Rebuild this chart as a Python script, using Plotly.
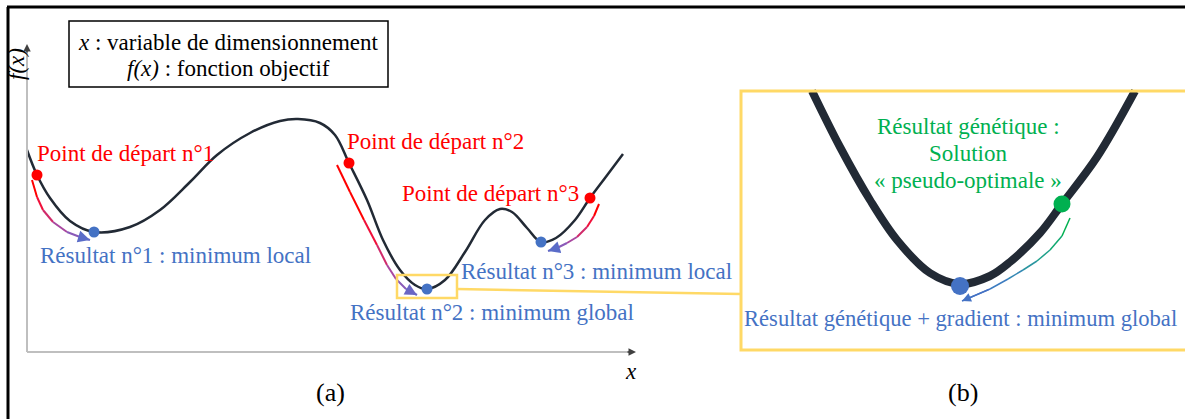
import plotly.graph_objects as go

# canvas in pixel units (x to the right, y downwards)
W, H = 1185, 419
FONT = "'Liberation Serif', 'Times New Roman', Times, serif"
RED, BLUE, GREEN = "#ff0000", "#4472c4", "#00b050"
DARK = "#222a35"
GOLD = "#ffd966"

#%% data
# (a) objective function f(x) sampled along the curve
curve_a_x = [27, 37, 50, 70, 94, 130, 160, 190, 217, 250, 280, 298, 320, 335, 349,
             367, 383, 400, 415, 427, 445, 465, 485, 500, 512, 527, 541, 556, 575, 590, 605, 623]
curve_a_y = [150, 175, 198, 221, 232, 227, 210, 182, 155, 133, 121, 119, 123, 135, 163,
             200, 240, 270, 285, 289, 280, 252, 220, 209, 212, 228, 242, 238, 220, 198, 178, 154]

start_x = [37, 349, 590]
start_y = [175, 163, 198]
start_labels = ["Point de départ n°1", "Point de départ n°2", "Point de départ n°3"]

result_x = [94, 427, 541]
result_y = [232, 289, 242]
result_labels = ["Résultat n°1 : minimum local", "Résultat n°2 : minimum global",
                 "Résultat n°3 : minimum local"]

# descent paths (gradient) from each start point to its result
path1_x = [32, 37, 43, 53, 67, 80, 90]
path1_y = [180, 197, 210, 222, 232, 237, 240]
path2_x = [337, 350, 364, 377, 387, 396, 406, 417]
path2_y = [165, 192, 220, 245, 265, 279, 289, 295]
path3_x = [599, 594, 587, 577, 567, 557, 548]
path3_y = [204, 216, 227, 237, 243, 248, 251]

# (b) zoom around the global minimum
curve_b_x = [812, 840, 870, 897, 930, 960, 990, 1010, 1040, 1062, 1097, 1135]
curve_b_y = [91, 147, 200, 240, 273, 284, 276, 262, 233, 204, 157, 91]
genetic_x, genetic_y = [1062], [204]
final_x, final_y = [960], [286]
path_b_x = [1070, 1062, 1050, 1037, 1023, 1008, 990, 962]
path_b_y = [218, 236, 250, 261, 270, 279, 289, 301]

fig = go.Figure()

# axes of panel (a)
fig.add_shape(type="line", x0=27, y0=352, x1=27, y1=47, line=dict(color="#bfbfbf", width=2))
fig.add_shape(type="line", x0=27, y0=352, x1=632, y1=352, line=dict(color="#bfbfbf", width=2))
fig.add_annotation(x=27, y=44, ax=27, ay=54, xref="x", yref="y", axref="x", ayref="y",
                   text="", showarrow=True, arrowhead=2, arrowsize=1, arrowwidth=1.5,
                   arrowcolor="#404040")
fig.add_annotation(x=636, y=352, ax=626, ay=352, xref="x", yref="y", axref="x", ayref="y",
                   text="", showarrow=True, arrowhead=2, arrowsize=1, arrowwidth=1.5,
                   arrowcolor="#404040")

# legend box
fig.add_shape(type="rect", x0=69, y0=21, x1=388, y1=87, line=dict(color="black", width=1.5))

# zoom boxes
fig.add_shape(type="rect", x0=397, y0=275, x1=457, y1=298, line=dict(color=GOLD, width=2.5))
fig.add_shape(type="line", x0=457, y0=289, x1=741, y1=294, line=dict(color=GOLD, width=2.5))
fig.add_shape(type="rect", x0=741, y0=91, x1=W + 10, y1=350, line=dict(color=GOLD, width=3))


def gradient_path(xs, ys, colors, width):
    for i in range(len(xs) - 1):
        fig.add_trace(go.Scatter(x=xs[i:i + 2], y=ys[i:i + 2], mode="lines",
                                 line=dict(color=colors[i], width=width),
                                 showlegend=False, hoverinfo="skip"))
    fig.add_annotation(x=xs[-1], y=ys[-1], ax=xs[-2], ay=ys[-2], xref="x", yref="y",
                       axref="x", ayref="y", text="", showarrow=True, arrowhead=2,
                       arrowsize=1.2, arrowwidth=width, arrowcolor=colors[-1])


grad_rb = ["#ff0000", "#f0103a", "#d02a6a", "#a848a0", "#8a5ab8", "#6a66c4", "#5a6cc8"]
gradient_path(path1_x, path1_y, grad_rb, 2)
gradient_path(path2_x, path2_y, ["#ff0000", "#ff0000", "#f0103a", "#d02a6a", "#a848a0",
                                 "#8a5ab8", "#6a66c4"], 2)
gradient_path(path3_x, path3_y, grad_rb, 2)
gradient_path(path_b_x, path_b_y, ["#00b050", "#10a870", "#1ea08a", "#2a95a0", "#3488b4",
                                   "#3c7cc0", "#4472c4"], 1.5)

# curves
fig.add_trace(go.Scatter(x=curve_a_x, y=curve_a_y, mode="lines", line_shape="spline",
                         line=dict(color=DARK, width=2.5), showlegend=False, hoverinfo="skip"))
fig.add_trace(go.Scatter(x=curve_b_x, y=curve_b_y, mode="lines", line_shape="spline",
                         line=dict(color=DARK, width=8), showlegend=False, hoverinfo="skip"))

# points
fig.add_trace(go.Scatter(x=start_x, y=start_y, mode="markers",
                         marker=dict(color=RED, size=11), showlegend=False))
fig.add_trace(go.Scatter(x=result_x, y=result_y, mode="markers",
                         marker=dict(color=BLUE, size=11), showlegend=False))
fig.add_trace(go.Scatter(x=genetic_x, y=genetic_y, mode="markers",
                         marker=dict(color=GREEN, size=17), showlegend=False))
fig.add_trace(go.Scatter(x=final_x, y=final_y, mode="markers",
                         marker=dict(color=BLUE, size=18), showlegend=False))

# texts
def label(x, y, text, color="black", size=23, anchor="left", angle=0):
    fig.add_annotation(x=x, y=y, xref="x", yref="y", text=text, showarrow=False,
                       xanchor=anchor, yanchor="middle", textangle=angle,
                       font=dict(family=FONT, size=size, color=color))


label(228, 42, "<i>x</i> : variable de dimensionnement", anchor="center")
label(228, 68, "<i>f(x)</i> : fonction objectif", anchor="center")
label(16, 64, "<i>f(x)</i>", anchor="center", angle=-90)

start_pos = [(35, 153), (345, 141), (400, 193)]
for (px, py), t in zip(start_pos, start_labels):
    label(px, py, t, RED)
result_pos = [(38, 255), (348, 312), (459, 271)]
for (px, py), t in zip(result_pos, result_labels):
    label(px, py, t, BLUE)

label(968, 126, "Résultat génétique :", GREEN, anchor="center")
label(968, 153, "Solution", GREEN, anchor="center")
label(968, 180, "« pseudo-optimale »", GREEN, anchor="center")
label(742, 318, "Résultat génétique + gradient : minimum global", BLUE, size=22.6)

label(623, 371, "<i>x</i>")
label(330, 392, "(a)", size=26, anchor="center")
label(963, 392, "(b)", size=26, anchor="center")

# frame lines (left and top), drawn over the rotated label like in the source
fig.add_shape(type="line", x0=8, y0=7, x1=8, y1=H, line=dict(color="black", width=3),
              layer="above")
fig.add_shape(type="line", x0=7, y0=7, x1=W, y1=7, line=dict(color="black", width=3),
              layer="above")

fig.update_layout(
    width=W, height=H,
    margin=dict(l=0, r=0, t=0, b=0),
    paper_bgcolor="white", plot_bgcolor="white",
    xaxis=dict(range=[0, W], visible=False, fixedrange=True),
    yaxis=dict(range=[H, 0], visible=False, fixedrange=True),
    showlegend=False,
)

# page margin would shift the drawing by 8 px
fig.write_html("out.html", config={"displayModeBar": False},
               post_script="document.body.style.margin='0';")
